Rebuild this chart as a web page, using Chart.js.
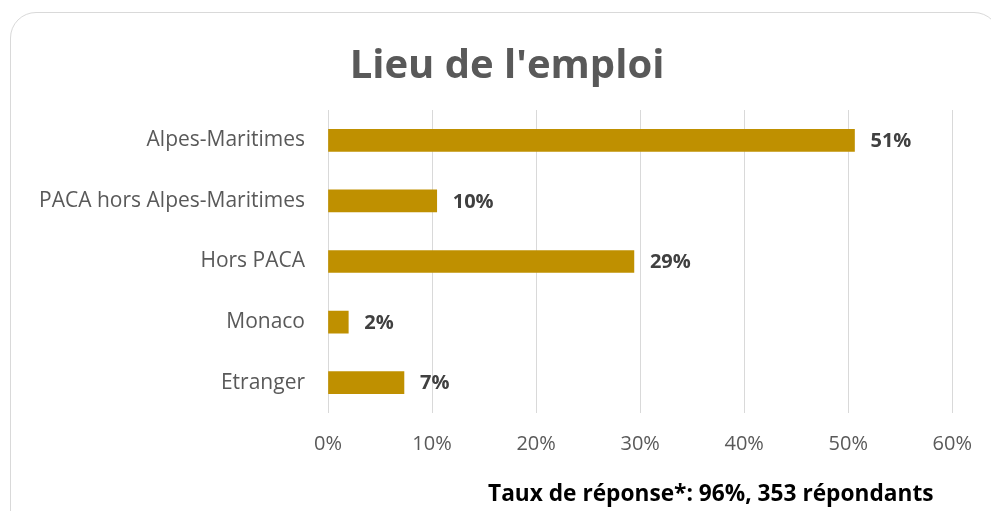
<!DOCTYPE html>
<html>
<head>
<meta charset="utf-8">
<script src="https://cdn.jsdelivr.net/npm/chart.js@4/dist/chart.umd.min.js"></script>
<style>
	html, body { margin: 0; padding: 0; background: #fff; }
	#wrap { position: relative; width: 991px; height: 511px; overflow: hidden; }
	#frame {
		position: absolute; left: 10px; top: 12px; width: 990px; height: 540px;
		border: 1px solid #d9d9d9; border-radius: 26px; box-sizing: border-box;
	}
	#chart { position: absolute; left: 0; top: 0; }
	#note {
		position: absolute; left: 488px; top: 477px;
		font: bold 22.7px "Open Sans", sans-serif; color: #000; white-space: nowrap;
	}
</style>
</head>
<body>
<div id="wrap">
	<div id="frame"></div>
	<canvas id="chart" width="991" height="511"></canvas>
	<div id="note">Taux de réponse*: 96%, 353 répondants</div>
</div>
<script>
let categories = ['Alpes-Maritimes', 'PACA hors Alpes-Maritimes', 'Hors PACA', 'Monaco', 'Etranger'];
let shares = [50.6, 10.45, 29.4, 1.95, 7.3];
let shareLabels = ['51%', '10%', '29%', '2%', '7%'];
let xTicks = [0, 10, 20, 30, 40, 50, 60];

let barColor = '#bf9000';
let textGray = '#595959';

// writes the percentage next to the end of each bar
let barLabels = {
	id: 'barLabels',
	afterDatasetsDraw: function(chart) {
		let ctx = chart.ctx;
		let meta = chart.getDatasetMeta(0);
		ctx.save();
		ctx.font = 'bold 20px "Open Sans", sans-serif';
		ctx.fillStyle = '#404040';
		ctx.textAlign = 'left';
		ctx.textBaseline = 'middle';
		meta.data.forEach(function(bar, i) {
			ctx.fillText(shareLabels[i], bar.x + 16, bar.y + 1);
		});
		ctx.restore();
	}
};

let ctx = document.getElementById('chart');
let config = {
	type: 'bar',
	data: {
		labels: categories,
		datasets: [{
			data: shares,
			backgroundColor: barColor,
			barThickness: 22
		}]
	},
	options: {
		indexAxis: 'y',
		responsive: false,
		animation: false,
		layout: { padding: { left: 23, right: 0, top: 0, bottom: 36 } },
		plugins: {
			legend: { display: false },
			tooltip: { enabled: false },
			title: {
				display: true,
				text: "Lieu de l'emploi",
				color: textGray,
				font: { family: 'Open Sans', size: 40, weight: 'bold' },
				padding: { top: 43, bottom: 19 }
			}
		},
		scales: {
			x: {
				min: 0,
				max: 60,
				afterBuildTicks: function(axis) {
					axis.ticks = xTicks.map(function(v) { return { value: v }; });
				},
				grid: { color: '#d9d9d9', lineWidth: 1, drawTicks: false },
				border: { display: false },
				ticks: {
					color: textGray,
					padding: 19,
					font: { family: 'Open Sans', size: 20 },
					callback: function(v) { return v + '%'; }
				}
			},
			y: {
				afterFit: function(axis) { axis.width = 305; },
				grid: { display: false, drawTicks: false },
				border: { display: false },
				ticks: {
					color: textGray,
					padding: 23,
					font: { family: 'Open Sans', size: 21 }
				}
			}
		}
	},
	plugins: [barLabels]
};

new Chart(ctx, config);
</script>
</body>
</html>
